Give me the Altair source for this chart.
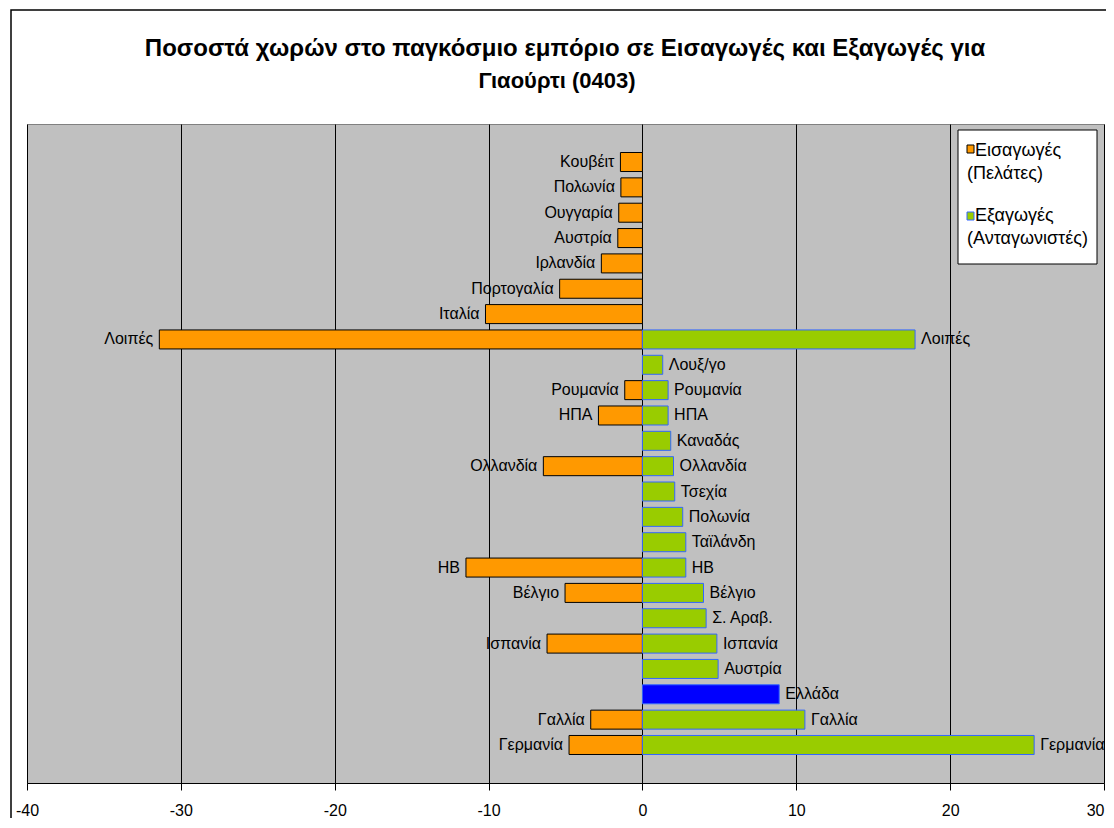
import altair as alt
import pandas as pd

# ---- data (top to bottom) ----
categories = ["Κουβέιτ", "Πολωνία", "Ουγγαρία", "Αυστρία", "Ιρλανδία", "Πορτογαλία",
              "Ιταλία", "Λοιπές", "Λουξ/γο", "Ρουμανία", "ΗΠΑ", "Καναδάς", "Ολλανδία",
              "Τσεχία", "Πολωνία", "Ταϊλάνδη", "ΗΒ", "Βέλγιο", "Σ. Αραβ.", "Ισπανία",
              "Αυστρία", "Ελλάδα", "Γαλλία", "Γερμανία"]
imports = [-1.43, -1.40, -1.54, -1.60, -2.67, -5.38, -10.2, -31.4, None, -1.15,
           -2.86, None, -6.44, None, None, None, -11.47, -5.03, None, -6.20,
           None, None, -3.36, -4.77]
exports = [None, None, None, None, None, None, None, 17.72, 1.32, 1.67,
           1.67, 1.84, 2.02, 2.10, 2.62, 2.82, 2.82, 3.97, 4.14, 4.84,
           4.92, 8.89, 10.56, 25.46]
highlight = "Ελλάδα"
x_ticks = [-40, -30, -20, -10, 0, 10, 20, 30]
title_lines = ["Ποσοστά χωρών στο παγκόσμιο εμπόριο σε Εισαγωγές και Εξαγωγές για",
               "Γιαούρτι (0403)"]
legend_lines = [["Εισαγωγές", "(Πελάτες)"], ["Εξαγωγές", "(Ανταγωνιστές)"]]

rows = []
keys = []
for i, c in enumerate(categories):
    key = f"k{i:02d}"
    keys.append(key)
    if imports[i] is not None:
        rows.append({"key": key, "label": c, "value": imports[i], "series": "imp"})
    if exports[i] is not None:
        s = "gr" if c == highlight else "exp"
        rows.append({"key": key, "label": c, "value": exports[i], "series": s})
df = pd.DataFrame(rows)

# one empty category slot above and below, as in the original category axis
y_domain = ["top"] + keys + ["bottom"]

FONT = "Liberation Sans"
W, H = 1077, 659

xscale = alt.Scale(domain=[-40, 30], nice=False, zero=False)
yscale = alt.Scale(domain=y_domain, paddingInner=0.25, paddingOuter=0.125)
yenc = alt.Y("key:N", scale=yscale, axis=None)

color = alt.Color("series:N", scale=alt.Scale(domain=["imp", "exp", "gr"],
                                              range=["#FF9900", "#99CC00", "#0000FF"]),
                  legend=None)
stroke = alt.Stroke("series:N", scale=alt.Scale(domain=["imp", "exp", "gr"],
                                                range=["#000000", "#3366FF", "#3366FF"]),
                    legend=None)

base = alt.Chart(df)

bars = base.mark_bar(strokeWidth=1).encode(
    x=alt.X("value:Q", scale=xscale,
            axis=alt.Axis(values=x_ticks, title=None, grid=True, gridColor="black",
                          gridWidth=1, gridOpacity=1, tickColor="black", tickSize=7,
                          domainColor="black", labelFont=FONT, labelFontSize=16,
                          labelColor="black", labelPadding=12, labelFlush=False,
                          labelAlign=alt.expr("datum.value == 30 ? 'right' : 'center'"),
                          labelExpr="datum.value < 0 ? '-' + abs(datum.value) : datum.label")),
    y=yenc,
    fill=color,
    stroke=stroke,
)

lab_imp = base.transform_filter(alt.datum.series == "imp").mark_text(
    align="right", baseline="middle", dx=-6, font=FONT, fontSize=16, color="black"
).encode(x=alt.X("value:Q", scale=xscale), y=yenc, text="label:N")

lab_exp = base.transform_filter(alt.datum.series != "imp").mark_text(
    align="left", baseline="middle", dx=6, font=FONT, fontSize=16, color="black"
).encode(x=alt.X("value:Q", scale=xscale), y=yenc, text="label:N")

one = alt.Data(values=[{"a": 1}])

frame = alt.Chart(one).mark_rect(fillOpacity=0, stroke="black", strokeWidth=1.5).encode(
    x=alt.value(-16), x2=alt.value(1300), y=alt.value(-114), y2=alt.value(900))

title1 = alt.Chart(one).mark_text(
    text=title_lines[0], align="center", baseline="middle", font=FONT, fontSize=24,
    fontWeight="bold", color="black").encode(x=alt.value(538), y=alt.value(-75))
title2 = alt.Chart(one).mark_text(
    text=title_lines[1], align="center", baseline="middle", font=FONT, fontSize=22,
    fontWeight="bold", color="black").encode(x=alt.value(530), y=alt.value(-43))

leg_box = alt.Chart(one).mark_rect(fill="white", stroke="black", strokeWidth=1).encode(
    x=alt.value(931), x2=alt.value(1070), y=alt.value(6), y2=alt.value(140))
leg_sq1 = alt.Chart(one).mark_rect(fill="#FF9900", stroke="black", strokeWidth=1).encode(
    x=alt.value(940), x2=alt.value(947), y=alt.value(21), y2=alt.value(29))
leg_sq2 = alt.Chart(one).mark_rect(fill="#99CC00", stroke="#3366FF", strokeWidth=1).encode(
    x=alt.value(940), x2=alt.value(947), y=alt.value(88), y2=alt.value(96))

leg_texts = []
ys = [[27, 50], [92, 115]]
for grp, yy in zip(legend_lines, ys):
    for j, (t, y) in enumerate(zip(grp, yy)):
        leg_texts.append(alt.Chart(one).mark_text(
            text=t, align="left", baseline="middle", font=FONT, fontSize=18, color="black"
        ).encode(x=alt.value(948 if j == 0 else 940), y=alt.value(y)))

chart = alt.layer(frame, title1, title2, bars, lab_imp, lab_exp, leg_box, leg_sq1, leg_sq2,
                  *leg_texts).properties(
    width=W, height=H,
    autosize=alt.AutoSizeParams(type="none"),
    padding={"left": 19, "top": 116, "right": 2, "bottom": 35},
    background="white",
).configure_view(fill="#C0C0C0", stroke="#808080", strokeWidth=1)

chart.save("out.html", embed_options={"renderer": "svg", "actions": False})
